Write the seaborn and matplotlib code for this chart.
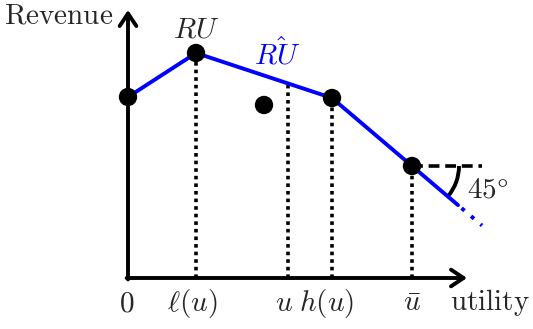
import matplotlib
matplotlib.use("Agg")
import matplotlib.pyplot as plt
from matplotlib.patches import Arc
import numpy as np
import pandas as pd
import seaborn as sns

sns.set_theme(style="white")
plt.rcParams["mathtext.fontset"] = "cm"
plt.rcParams["font.family"] = ["DejaVu Serif"]

# Kinks of the upper envelope (utility, revenue)
kink_utility = [0, 68, 204, 284]
kink_revenue = [181, 225, 180, 112]
kink_names = ["0", r"$\ell(u)$", r"$h(u)$", r"$\bar{u}$"]

# Interior utility level u lying on the envelope
u_value = 160
# A single offer below the envelope
lone_utility = [136]
lone_revenue = [173]

# Continuation beyond u-bar
tail_solid_end = 330
tail_dotted_end = 354

BLUE = "#0000ff"
LW = 2.8
FS = 21

fig = plt.figure(figsize=(5.33, 3.29), dpi=100)
ax = fig.add_axes([0, 0, 1, 1])
ax.set_xlim(-128, 405)
ax.set_ylim(-51, 278)
ax.set_axis_off()

# envelope line
env = pd.DataFrame({"utility": kink_utility, "revenue": kink_revenue})
sns.lineplot(data=env, x="utility", y="revenue", color=BLUE, lw=LW, ax=ax,
             sort=False, zorder=3)

slope = (kink_revenue[3] - kink_revenue[2]) / (kink_utility[3] - kink_utility[2])
def env_at(x):
    return kink_revenue[3] + slope * (x - kink_utility[3])

sns.lineplot(x=[kink_utility[3], tail_solid_end],
             y=[kink_revenue[3], env_at(tail_solid_end)],
             color=BLUE, lw=LW, ax=ax, zorder=3)
ax.plot([tail_solid_end, tail_dotted_end],
        [env_at(tail_solid_end), env_at(tail_dotted_end)],
        color=BLUE, lw=LW, ls=(2, (1, 2.2)), zorder=3)

# revenue at u via interpolation on the envelope
u_rev = np.interp(u_value, kink_utility, kink_revenue)

# dotted drop lines to the utility axis
for xv, yv in zip(kink_utility[1:] + [u_value], kink_revenue[1:] + [u_rev]):
    ax.plot([xv, xv], [0, yv], color="black", lw=2.6, ls=(0, (1, 1.1)),
            zorder=2)

# dashed horizontal and 45° arc at u-bar
ax.plot([kink_utility[3], kink_utility[3] + 70],
        [kink_revenue[3], kink_revenue[3]], color="black", lw=2.6,
        ls=(0, (3, 1.6)), zorder=2)
ang = np.degrees(np.arctan(slope))
ax.add_patch(Arc((kink_utility[3], kink_revenue[3]), 94, 94, theta1=ang,
                 theta2=0, color="black", lw=LW, zorder=2))
ax.text(360, 89, r"$45\degree$", fontsize=FS, ha="center", va="center")

# points
sns.scatterplot(x=kink_utility, y=kink_revenue, color="black", s=175,
                edgecolor="none", ax=ax, zorder=4)
sns.scatterplot(x=lone_utility, y=lone_revenue, color="black", s=175,
                edgecolor="none", ax=ax, zorder=4)

# axes with arrowheads
arrow = dict(arrowstyle="->,head_length=0.45,head_width=0.3", lw=LW,
             color="black", mutation_scale=20, shrinkA=0, shrinkB=0)
ax.annotate("", xy=(0, 268), xytext=(0, -1.4), arrowprops=arrow, zorder=5)
ax.annotate("", xy=(339, 0), xytext=(-1.4, 0), arrowprops=arrow, zorder=5)

# labels
LABEL_Y = -25
ax.text(-69, 263, r"$\mathrm{Revenue}$", fontsize=FS, ha="center", va="center")
ax.text(362, LABEL_Y, r"$\mathrm{utility}$", fontsize=FS, ha="center", va="center")
label_x = [-1, 64, 199, 284]
for lx, name in zip(label_x, kink_names):
    txt = name if name.startswith("$") else r"$%s$" % name
    ax.text(lx, LABEL_Y, txt, fontsize=FS, ha="center", va="center")
ax.text(156, LABEL_Y, r"$u$", fontsize=FS, ha="center", va="center")
ax.text(68, 248, r"$RU$", fontsize=FS, ha="center", va="center")
ax.text(149, 224, r"$\hat{RU}$", fontsize=FS, ha="center", va="center",
        color=BLUE)

fig.savefig("out.png", dpi=100)
